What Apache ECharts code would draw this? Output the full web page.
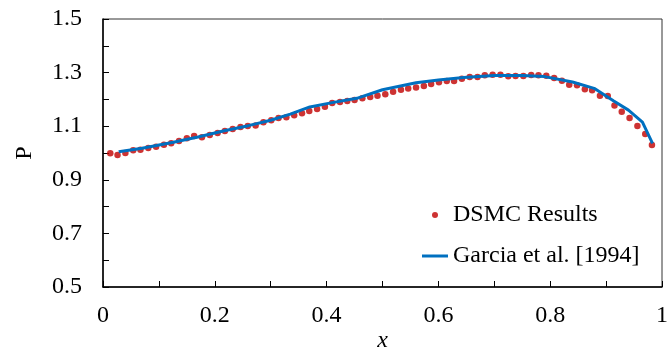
<!DOCTYPE html>
<html>
<head>
<meta charset="utf-8">
<script src="https://cdn.jsdelivr.net/npm/echarts@6/dist/echarts.min.js"></script>
<style>
  html, body { margin: 0; padding: 0; background: #fff; }
  #chart { width: 668px; height: 349px; }
</style>
</head>
<body>
<div id="chart"></div>
<script>
// DSMC 结果 (x, P)
const dsmcX = [
  0.013, 0.026, 0.040, 0.054, 0.067, 0.081, 0.095, 0.109, 0.122, 0.136,
  0.150, 0.163, 0.177, 0.191, 0.205, 0.218, 0.232, 0.246, 0.259, 0.273,
  0.287, 0.301, 0.314, 0.328, 0.342, 0.356, 0.369, 0.383, 0.397, 0.410,
  0.424, 0.437, 0.450, 0.464, 0.478, 0.491, 0.505, 0.519, 0.533, 0.546,
  0.560, 0.574, 0.587, 0.601, 0.615, 0.628, 0.642, 0.656, 0.670, 0.683,
  0.697, 0.711, 0.725, 0.738, 0.752, 0.766, 0.779, 0.793, 0.807, 0.821,
  0.834, 0.848, 0.862, 0.875, 0.889, 0.903, 0.915, 0.928, 0.942, 0.956,
  0.970, 0.982
];
const dsmcP = [
  0.999, 0.993, 1.000, 1.010, 1.012, 1.019, 1.023, 1.031, 1.036, 1.045,
  1.055, 1.063, 1.059, 1.067, 1.075, 1.082, 1.090, 1.097, 1.101, 1.103,
  1.115, 1.122, 1.131, 1.133, 1.141, 1.148, 1.157, 1.164, 1.173, 1.187,
  1.190, 1.194, 1.198, 1.204, 1.209, 1.214, 1.219, 1.229, 1.236, 1.241,
  1.244, 1.250, 1.257, 1.264, 1.269, 1.269, 1.277, 1.284, 1.284, 1.290,
  1.292, 1.292, 1.286, 1.287, 1.287, 1.291, 1.290, 1.288, 1.280, 1.270,
  1.255, 1.253, 1.238, 1.234, 1.214, 1.213, 1.177, 1.154, 1.131, 1.101,
  1.071, 1.030
];

// Garcia et al. [1994]
const garciaX = [
  0.028, 0.070, 0.126, 0.170, 0.215, 0.260, 0.300, 0.335, 0.370, 0.410,
  0.454, 0.500, 0.560, 0.600, 0.645, 0.700, 0.750, 0.790, 0.840, 0.880,
  0.913, 0.940, 0.965, 0.983
];
const garciaP = [
  1.005, 1.018, 1.040, 1.060, 1.082, 1.102, 1.122, 1.145, 1.172, 1.188,
  1.204, 1.236, 1.262, 1.272, 1.282, 1.289, 1.289, 1.285, 1.265, 1.240,
  1.195, 1.160, 1.115, 1.036
];

const font = "'Liberation Serif', 'Times New Roman', serif";

let myChart = echarts.init(document.getElementById('chart'));

let option = {
  animation: false,
  textStyle: { fontFamily: font, color: '#000' },
  grid: {
    left: 103, right: 6, top: 19, bottom: 62,
    outerBoundsMode: 'none',
    containLabel: false,
    show: true, borderColor: '#333', borderWidth: 1
  },
  legend: {
    orient: 'vertical',
    left: 422,
    top: 203,
    padding: 0,
    itemWidth: 26,
    itemHeight: 6,
    itemGap: 17,
    textStyle: { fontFamily: font, fontSize: 24, color: '#000' },
    data: [
      { name: 'DSMC Results', icon: 'circle' },
      { name: 'Garcia et al. [1994]', icon: 'path://M0,0L26,0L26,3L0,3Z' }
    ]
  },
  xAxis: {
    type: 'value',
    min: 0, max: 1, interval: 0.1,
    name: 'x',
    nameLocation: 'middle',
    nameGap: 42,
    nameMoveOverlap: false,
    nameTextStyle: { fontFamily: font, fontSize: 24, fontStyle: 'italic', color: '#000' },
    axisLine: { lineStyle: { color: '#000', width: 1.5 } },
    axisTick: { inside: true, length: 6, lineStyle: { color: '#000' } },
    axisLabel: {
      fontFamily: font, fontSize: 24, color: '#000', margin: 17,
      formatter: function (v) {
        let k = Math.round(v * 10);
        if (k % 2 !== 0) return '';
        if (k === 0) return '0';
        if (k === 10) return '1';
        return (k / 10).toFixed(1);
      }
    },
    splitLine: { show: false }
  },
  yAxis: {
    type: 'value',
    min: 0.5, max: 1.5, interval: 0.1,
    name: 'P',
    nameLocation: 'middle',
    nameGap: 66,
    nameMoveOverlap: false,
    nameRotate: 90,
    nameTextStyle: { fontFamily: font, fontSize: 24, color: '#000' },
    axisLine: { show: true, lineStyle: { color: '#000', width: 1.5 } },
    axisTick: { show: true, inside: true, length: 6, lineStyle: { color: '#000' } },
    axisLabel: {
      fontFamily: font, fontSize: 24, color: '#000', margin: 21,
      formatter: function (v) {
        let k = Math.round(v * 10);
        return k % 2 === 1 ? (k / 10).toFixed(1) : '';
      }
    },
    splitLine: { show: false }
  },
  series: [
    {
      name: 'DSMC Results',
      type: 'scatter',
      symbol: 'circle',
      symbolSize: 6.5,
      itemStyle: { color: '#C00000' },
      z: 2,
      data: dsmcX.map((x, i) => [x, dsmcP[i]])
    },
    {
      name: 'Garcia et al. [1994]',
      type: 'line',
      symbol: 'none',
      lineStyle: { color: '#0070C0', width: 3 },
      itemStyle: { color: '#0070C0' },
      z: 3,
      data: garciaX.map((x, i) => [x, garciaP[i]])
    }
  ]
};

option && myChart.setOption(option);
</script>
</body>
</html>
